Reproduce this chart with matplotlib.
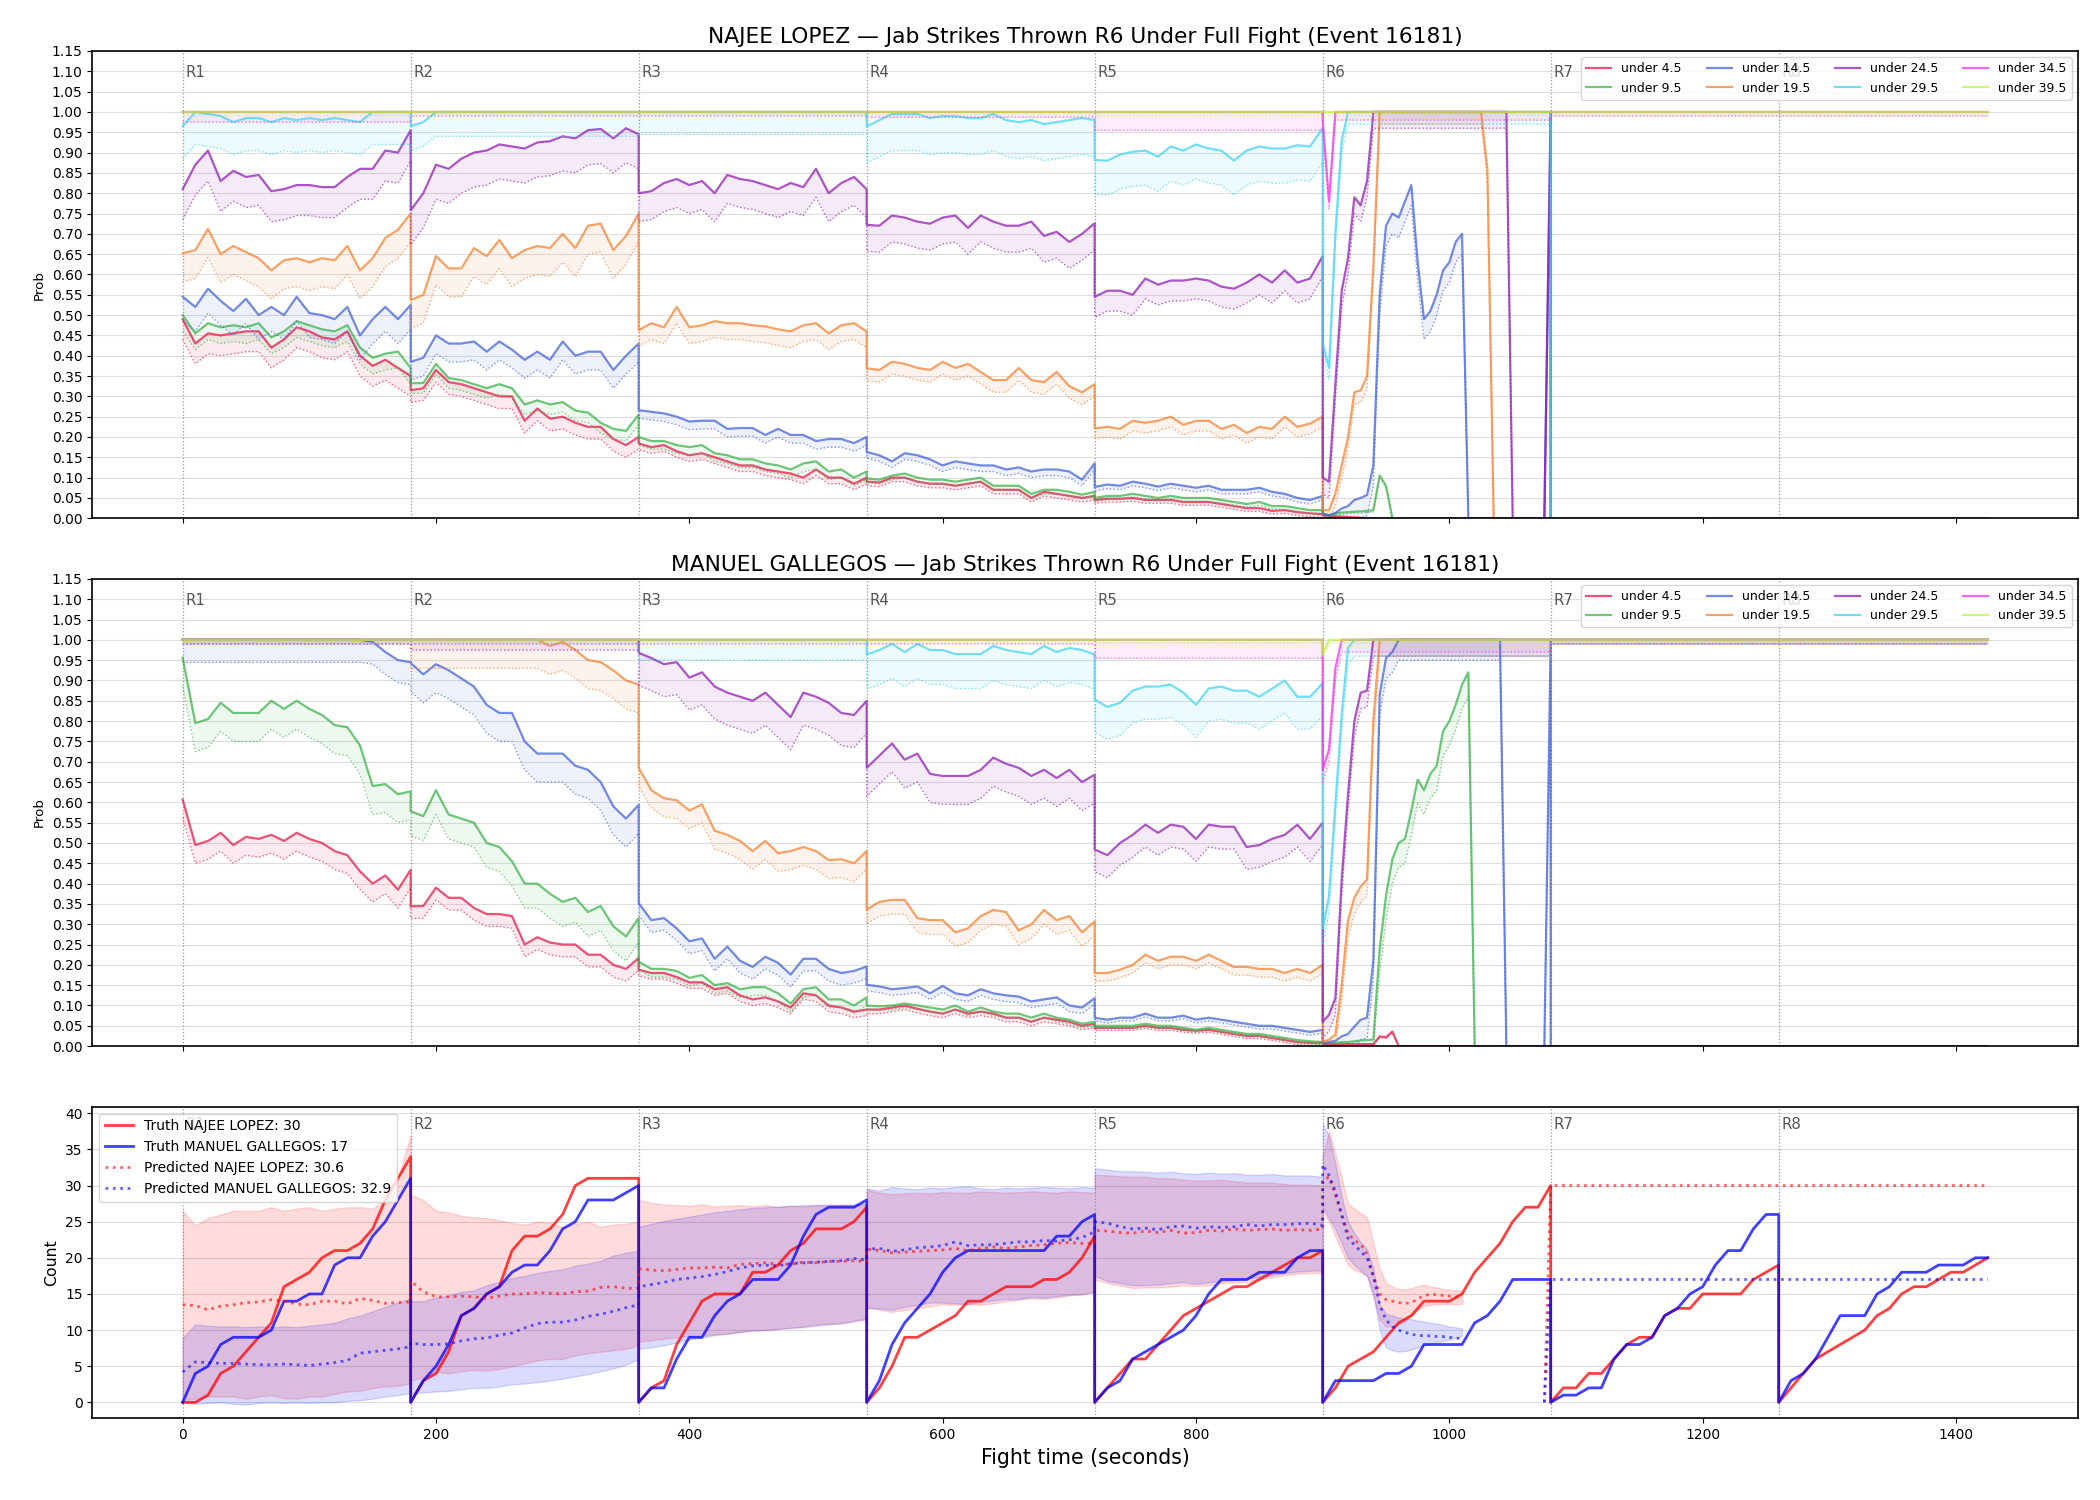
import numpy as np
import matplotlib
matplotlib.use('Agg')
import matplotlib.pyplot as plt

nan = np.nan

# ---------------- time segments ----------------
round_starts = [0, 180, 360, 540, 720, 900, 1080, 1260]
prob_edges = [0, 180, 360, 540, 720, 900, 1080, 1425]          # R1..R6 + after R6
count_edges = [0, 180, 360, 540, 720, 900, 1080, 1260, 1425]    # R1..R8

thresholds = ['under 4.5', 'under 9.5', 'under 14.5', 'under 19.5',
              'under 24.5', 'under 29.5', 'under 34.5', 'under 39.5']
colors = ['#e6194b', '#3cb44b', '#4363d8', '#f58231',
          '#911eb4', '#42d4f4', '#f032e6', '#bfef45']

# ---------------- NAJEE LOPEZ probabilities (one list per segment) ----------------
lopez_u45 = [
    [0.49, 0.43, 0.455, 0.45, 0.455, 0.46, 0.46, 0.42, 0.44, 0.47, 0.46, 0.445, 0.44, 0.46, 0.40, 0.375, 0.39, 0.37, 0.35],
    [0.315, 0.32, 0.365, 0.335, 0.33, 0.32, 0.31, 0.30, 0.30, 0.24, 0.27, 0.245, 0.25, 0.235, 0.225, 0.225, 0.195, 0.18, 0.20],
    [0.184, 0.175, 0.18, 0.165, 0.155, 0.16, 0.15, 0.14, 0.13, 0.13, 0.12, 0.115, 0.11, 0.10, 0.12, 0.10, 0.10, 0.085, 0.10],
    [0.09, 0.088, 0.10, 0.10, 0.09, 0.085, 0.085, 0.08, 0.085, 0.09, 0.07, 0.07, 0.07, 0.05, 0.065, 0.06, 0.055, 0.05, 0.055],
    [0.045, 0.048, 0.048, 0.05, 0.045, 0.045, 0.045, 0.04, 0.04, 0.04, 0.035, 0.03, 0.025, 0.025, 0.018, 0.02, 0.015, 0.012, 0.01],
    [0.008, 0.006, 0.005, 0.004, 0.003, 0.002, 0.001] + [0.0] * 30,
    [0.0, 0.0]]
lopez_u95 = [
    [0.50, 0.455, 0.48, 0.47, 0.475, 0.47, 0.48, 0.445, 0.46, 0.485, 0.475, 0.465, 0.46, 0.475, 0.42, 0.395, 0.405, 0.41, 0.37],
    [0.332, 0.333, 0.38, 0.345, 0.34, 0.33, 0.32, 0.33, 0.32, 0.28, 0.29, 0.28, 0.286, 0.265, 0.26, 0.235, 0.22, 0.215, 0.255],
    [0.20, 0.19, 0.19, 0.18, 0.175, 0.18, 0.16, 0.155, 0.145, 0.145, 0.135, 0.13, 0.12, 0.135, 0.14, 0.115, 0.12, 0.10, 0.115],
    [0.098, 0.095, 0.105, 0.11, 0.10, 0.095, 0.095, 0.09, 0.095, 0.10, 0.08, 0.08, 0.08, 0.06, 0.07, 0.07, 0.065, 0.058, 0.065],
    [0.05, 0.055, 0.055, 0.06, 0.055, 0.05, 0.055, 0.05, 0.05, 0.05, 0.045, 0.04, 0.035, 0.04, 0.03, 0.03, 0.025, 0.02, 0.02],
    [0.012, 0.008, 0.012, 0.014, 0.015, 0.016, 0.017, 0.018, 0.02, 0.105, 0.08] + [0.0] * 26,
    [0.0, 0.0]]
lopez_u145 = [
    [0.545, 0.52, 0.565, 0.535, 0.51, 0.54, 0.50, 0.52, 0.50, 0.545, 0.505, 0.50, 0.49, 0.52, 0.45, 0.49, 0.52, 0.49, 0.525],
    [0.385, 0.395, 0.45, 0.43, 0.43, 0.435, 0.41, 0.435, 0.415, 0.39, 0.41, 0.39, 0.435, 0.40, 0.41, 0.41, 0.365, 0.40, 0.43],
    [0.266, 0.262, 0.258, 0.25, 0.238, 0.24, 0.24, 0.22, 0.222, 0.222, 0.205, 0.22, 0.205, 0.205, 0.19, 0.195, 0.195, 0.185, 0.20],
    [0.163, 0.155, 0.14, 0.16, 0.155, 0.145, 0.13, 0.14, 0.135, 0.13, 0.13, 0.12, 0.125, 0.115, 0.12, 0.12, 0.115, 0.095, 0.135],
    [0.077, 0.083, 0.08, 0.09, 0.085, 0.078, 0.085, 0.08, 0.075, 0.08, 0.07, 0.07, 0.07, 0.075, 0.065, 0.06, 0.05, 0.045, 0.055],
    [0.01, 0.007, 0.013, 0.024, 0.03, 0.045, 0.05, 0.057, 0.13, 0.55, 0.72, 0.75, 0.74, 0.78, 0.82, 0.63,
     0.49, 0.51, 0.55, 0.61, 0.63, 0.68, 0.70] + [0.0] * 13 + [1.0],
    [0.0, 0.0]]
lopez_u195 = [
    [0.652, 0.66, 0.712, 0.65, 0.67, 0.655, 0.64, 0.61, 0.635, 0.64, 0.63, 0.64, 0.635, 0.67, 0.61, 0.64, 0.69, 0.71, 0.75],
    [0.537, 0.55, 0.645, 0.615, 0.615, 0.665, 0.645, 0.685, 0.64, 0.66, 0.67, 0.665, 0.70, 0.665, 0.72, 0.725, 0.66, 0.695, 0.75],
    [0.463, 0.48, 0.47, 0.52, 0.47, 0.475, 0.485, 0.48, 0.48, 0.475, 0.472, 0.465, 0.46, 0.475, 0.48, 0.455, 0.475, 0.48, 0.46],
    [0.369, 0.365, 0.385, 0.38, 0.37, 0.365, 0.385, 0.37, 0.38, 0.36, 0.34, 0.34, 0.37, 0.34, 0.335, 0.36, 0.325, 0.31, 0.33],
    [0.221, 0.225, 0.22, 0.24, 0.235, 0.24, 0.25, 0.23, 0.24, 0.24, 0.22, 0.23, 0.21, 0.225, 0.22, 0.25, 0.225, 0.233, 0.25],
    [0.02, 0.02, 0.06, 0.13, 0.20, 0.31, 0.315, 0.35, 0.62] + [1.0] * 17 + [0.86] + [0.0] * 10,
    [0.0, 0.0]]
lopez_u245 = [
    [0.81, 0.87, 0.905, 0.83, 0.855, 0.84, 0.845, 0.805, 0.81, 0.82, 0.82, 0.815, 0.815, 0.84, 0.86, 0.86, 0.905, 0.90, 0.955],
    [0.758, 0.80, 0.87, 0.86, 0.885, 0.90, 0.905, 0.92, 0.915, 0.91, 0.925, 0.928, 0.94, 0.935, 0.955, 0.958, 0.935, 0.96, 0.945],
    [0.80, 0.805, 0.825, 0.835, 0.82, 0.83, 0.80, 0.845, 0.835, 0.83, 0.82, 0.81, 0.825, 0.815, 0.86, 0.80, 0.825, 0.84, 0.81],
    [0.722, 0.72, 0.745, 0.74, 0.73, 0.725, 0.74, 0.745, 0.715, 0.745, 0.73, 0.72, 0.72, 0.73, 0.695, 0.705, 0.68, 0.70, 0.726],
    [0.545, 0.56, 0.56, 0.55, 0.59, 0.575, 0.585, 0.585, 0.59, 0.585, 0.57, 0.565, 0.58, 0.60, 0.58, 0.61, 0.58, 0.59, 0.645],
    [0.10, 0.09, 0.33, 0.56, 0.64, 0.79, 0.77, 0.83] + [1.0] * 22 + [0.0] * 6 + [1.0],
    [0.0, 0.0]]
lopez_u295 = [
    [0.965, 1.0, 0.995, 0.99, 0.975, 0.985, 0.985, 0.975, 0.985, 0.98, 0.985, 0.98, 0.985, 0.98, 0.975, 1.0, 1.0, 1.0, 1.0],
    [0.965, 0.975, 1.0, 1.0, 1.0, 1.0, 1.0, 1.0, 1.0, 1.0, 1.0, 1.0, 1.0, 1.0, 1.0, 1.0, 1.0, 1.0, 1.0],
    [1.0, 1.0],
    [0.964, 0.98, 0.995, 0.995, 0.995, 0.985, 0.99, 0.99, 0.985, 0.985, 0.995, 0.98, 0.975, 0.98, 0.97, 0.975, 0.98, 0.985, 0.98],
    [0.882, 0.88, 0.895, 0.902, 0.905, 0.89, 0.915, 0.905, 0.92, 0.91, 0.905, 0.88, 0.905, 0.915, 0.91, 0.91, 0.918, 0.915, 0.96],
    [0.43, 0.37, 0.70, 0.93] + [1.0] * 33,
    [0.0, 0.0]]
lopez_u345 = [[1.0, 1.0], [1.0, 1.0], [1.0, 1.0], [1.0, 1.0], [1.0, 1.0],
              [0.98, 0.78] + [1.0] * 35, [1.0, 1.0]]
lopez_u395 = [[1.0, 1.0], [1.0, 1.0], [1.0, 1.0], [1.0, 1.0], [1.0, 1.0], [1.0, 1.0], [1.0, 1.0]]

# distance from each solid line down to its dotted lower bound, per segment
lopez_gaps = [
    [0.05, 0.03, 0.015, 0.01, 0.008, 0.004, 0.0],
    [0.04, 0.025, 0.02, 0.01, 0.008, 0.004, 0.0],
    [0.06, 0.045, 0.02, 0.015, 0.01, 0.05, 0.0],
    [0.07, 0.07, 0.04, 0.03, 0.025, 0.03, 0.0],
    [0.075, 0.085, 0.07, 0.065, 0.05, 0.04, 0.0],
    [0.08, 0.06, 0.055, 0.09, 0.085, 0.03, 0.0],
    [0.025, 0.01, 0.01, 0.013, 0.045, 0.02, 0.01],
    [0.008, 0.008, 0.008, 0.008, 0.008, 0.008, 0.008]]

# ---------------- MANUEL GALLEGOS probabilities ----------------
gallegos_u45 = [
    [0.607, 0.495, 0.505, 0.525, 0.495, 0.515, 0.51, 0.52, 0.505, 0.525, 0.51, 0.50, 0.48, 0.47, 0.43, 0.40, 0.42, 0.385, 0.434],
    [0.344, 0.345, 0.39, 0.365, 0.365, 0.34, 0.325, 0.325, 0.32, 0.25, 0.268, 0.255, 0.25, 0.25, 0.225, 0.225, 0.20, 0.19, 0.217],
    [0.188, 0.18, 0.18, 0.17, 0.157, 0.157, 0.14, 0.145, 0.125, 0.115, 0.12, 0.11, 0.095, 0.13, 0.125, 0.10, 0.095, 0.085, 0.09],
    [0.09, 0.09, 0.095, 0.10, 0.092, 0.085, 0.08, 0.09, 0.08, 0.085, 0.08, 0.07, 0.07, 0.06, 0.07, 0.065, 0.06, 0.05, 0.055],
    [0.045, 0.045, 0.045, 0.045, 0.05, 0.045, 0.045, 0.04, 0.038, 0.04, 0.035, 0.03, 0.025, 0.025, 0.02, 0.015, 0.01, 0.008, 0.008],
    [0.005] * 9 + [0.024, 0.022, 0.036] + [0.0] * 25,
    [0.0, 0.0]]
gallegos_u95 = [
    [0.956, 0.795, 0.805, 0.845, 0.82, 0.82, 0.82, 0.85, 0.83, 0.85, 0.83, 0.815, 0.79, 0.785, 0.74, 0.64, 0.645, 0.62, 0.627],
    [0.578, 0.566, 0.63, 0.57, 0.56, 0.55, 0.50, 0.49, 0.455, 0.40, 0.40, 0.375, 0.355, 0.365, 0.33, 0.345, 0.295, 0.27, 0.315],
    [0.208, 0.19, 0.19, 0.185, 0.168, 0.175, 0.15, 0.155, 0.14, 0.145, 0.145, 0.13, 0.105, 0.14, 0.145, 0.115, 0.115, 0.10, 0.12],
    [0.10, 0.098, 0.10, 0.105, 0.10, 0.095, 0.09, 0.10, 0.085, 0.095, 0.085, 0.08, 0.08, 0.07, 0.08, 0.07, 0.065, 0.055, 0.06],
    [0.05, 0.05, 0.05, 0.05, 0.055, 0.05, 0.05, 0.045, 0.04, 0.045, 0.04, 0.035, 0.03, 0.03, 0.025, 0.02, 0.015, 0.012, 0.01],
    [0.007, 0.007, 0.008, 0.01, 0.01, 0.012, 0.014, 0.015, 0.016, 0.24, 0.37, 0.46, 0.50, 0.51, 0.58, 0.656,
     0.63, 0.67, 0.69, 0.775, 0.80, 0.84, 0.89, 0.92] + [0.0] * 13,
    [0.0, 0.0]]
gallegos_u145 = [
    [1.0, 1.0, 1.0, 1.0, 1.0, 1.0, 1.0, 1.0, 1.0, 1.0, 1.0, 1.0, 1.0, 1.0, 1.0, 0.995, 0.97, 0.95, 0.945],
    [0.943, 0.915, 0.94, 0.925, 0.905, 0.885, 0.84, 0.82, 0.82, 0.75, 0.72, 0.72, 0.72, 0.69, 0.68, 0.65, 0.59, 0.56, 0.594],
    [0.352, 0.31, 0.315, 0.29, 0.258, 0.265, 0.215, 0.245, 0.21, 0.195, 0.22, 0.205, 0.176, 0.215, 0.215, 0.19, 0.18, 0.185, 0.196],
    [0.151, 0.147, 0.14, 0.143, 0.147, 0.13, 0.148, 0.13, 0.125, 0.14, 0.13, 0.125, 0.122, 0.11, 0.115, 0.12, 0.10, 0.095, 0.118],
    [0.07, 0.065, 0.07, 0.07, 0.08, 0.07, 0.07, 0.075, 0.065, 0.07, 0.065, 0.06, 0.055, 0.05, 0.05, 0.045, 0.04, 0.035, 0.04],
    [0.007, 0.01, 0.013, 0.024, 0.03, 0.048, 0.065, 0.07, 0.21, 0.865, 0.955, 0.97] + [1.0] * 17 + [0.0] * 7 + [1.0],
    [0.0, 0.0]]
gallegos_u195 = [
    [1.0, 1.0],
    [1.0, 1.0, 1.0, 1.0, 1.0, 1.0, 1.0, 1.0, 1.0, 1.0, 1.0, 0.985, 0.995, 0.975, 0.95, 0.945, 0.925, 0.90, 0.89],
    [0.685, 0.63, 0.61, 0.605, 0.58, 0.595, 0.53, 0.52, 0.505, 0.48, 0.505, 0.475, 0.48, 0.49, 0.48, 0.458, 0.46, 0.45, 0.48],
    [0.336, 0.355, 0.36, 0.36, 0.315, 0.31, 0.31, 0.28, 0.29, 0.32, 0.335, 0.33, 0.285, 0.30, 0.335, 0.31, 0.32, 0.28, 0.307],
    [0.18, 0.18, 0.188, 0.20, 0.225, 0.21, 0.22, 0.22, 0.21, 0.225, 0.21, 0.195, 0.195, 0.19, 0.19, 0.18, 0.19, 0.18, 0.20],
    [0.011, 0.016, 0.028, 0.15, 0.31, 0.365, 0.393, 0.41, 0.80] + [1.0] * 28,
    [1.0, 1.0]]
gallegos_u245 = [
    [1.0, 1.0],
    [1.0, 1.0],
    [0.968, 0.955, 0.94, 0.945, 0.907, 0.92, 0.885, 0.87, 0.86, 0.85, 0.87, 0.84, 0.81, 0.87, 0.86, 0.845, 0.82, 0.815, 0.85],
    [0.685, 0.715, 0.745, 0.705, 0.72, 0.67, 0.665, 0.665, 0.665, 0.68, 0.71, 0.695, 0.685, 0.665, 0.68, 0.66, 0.68, 0.65, 0.668],
    [0.484, 0.47, 0.50, 0.52, 0.545, 0.525, 0.545, 0.54, 0.51, 0.545, 0.54, 0.54, 0.49, 0.495, 0.51, 0.52, 0.545, 0.51, 0.55],
    [0.06, 0.077, 0.118, 0.41, 0.62, 0.80, 0.87, 0.875] + [1.0] * 29,
    [1.0, 1.0]]
gallegos_u295 = [
    [1.0, 1.0],
    [1.0, 1.0],
    [1.0, 1.0],
    [0.964, 0.975, 0.99, 0.97, 0.99, 0.975, 0.975, 0.965, 0.965, 0.965, 0.985, 0.975, 0.97, 0.965, 0.985, 0.97, 0.98, 0.975, 0.964],
    [0.853, 0.835, 0.845, 0.875, 0.885, 0.885, 0.89, 0.87, 0.84, 0.88, 0.885, 0.875, 0.875, 0.86, 0.88, 0.90, 0.86, 0.86, 0.893],
    [0.29, 0.37, 0.594, 0.816, 0.98] + [1.0] * 32,
    [1.0, 1.0]]
gallegos_u345 = [[1.0, 1.0], [1.0, 1.0], [1.0, 1.0], [1.0, 1.0], [1.0, 1.0],
                 [0.68, 0.73, 0.93] + [1.0] * 34, [1.0, 1.0]]
gallegos_u395 = [[1.0, 1.0], [1.0, 1.0], [1.0, 1.0], [1.0, 1.0], [1.0, 1.0],
                 [0.965] + [1.0] * 36, [1.0, 1.0]]

gallegos_gaps = [
    [0.045, 0.03, 0.015, 0.01, 0.006, 0.003, 0.0],
    [0.07, 0.06, 0.02, 0.01, 0.006, 0.06, 0.0],
    [0.055, 0.07, 0.03, 0.015, 0.008, 0.05, 0.0],
    [0.01, 0.07, 0.045, 0.035, 0.02, 0.04, 0.01],
    [0.01, 0.025, 0.08, 0.07, 0.055, 0.04, 0.01],
    [0.01, 0.01, 0.05, 0.085, 0.08, 0.04, 0.01],
    [0.01, 0.01, 0.01, 0.01, 0.045, 0.03, 0.01],
    [0.008, 0.008, 0.008, 0.008, 0.008, 0.008, 0.008]]

# ---------------- cumulative jab counts (truth), one list per round ----------------
lopez_truth = [
    [0, 0, 1, 4, 5, 7, 9, 11, 16, 17, 18, 20, 21, 21, 22, 24, 28, 31, 34],
    [0, 3, 4, 7, 12, 13, 15, 16, 21, 23, 23, 24, 26, 30, 31, 31, 31, 31, 31],
    [0, 2, 3, 8, 11, 14, 15, 15, 15, 18, 18, 19, 21, 22, 24, 24, 24, 25, 27],
    [0, 2, 5, 9, 9, 10, 11, 12, 14, 14, 15, 16, 16, 16, 17, 17, 18, 20, 23],
    [0, 2, 4, 6, 6, 8, 10, 12, 13, 14, 15, 16, 16, 17, 18, 19, 20, 20, 21],
    [0, 2, 5, 6, 7, 9, 11, 12, 14, 14, 14, 15, 18, 20, 22, 25, 27, 27, 30],
    [0, 2, 2, 4, 4, 6, 8, 9, 9, 12, 13, 13, 15, 15, 15, 15, 17, 18, 19],
    [0, 2, 4, 6, 7, 8, 9, 10, 12, 13, 15, 16, 16, 17, 18, 18, 19, 20]]
gallegos_truth = [
    [0, 4, 5, 8, 9, 9, 9, 10, 14, 14, 15, 15, 19, 20, 20, 23, 25, 28, 31],
    [0, 3, 5, 8, 12, 13, 15, 16, 18, 19, 19, 21, 24, 25, 28, 28, 28, 29, 30],
    [0, 2, 2, 6, 9, 9, 12, 14, 15, 17, 17, 17, 19, 23, 26, 27, 27, 27, 28],
    [0, 3, 8, 11, 13, 15, 18, 20, 21, 21, 21, 21, 21, 21, 21, 23, 23, 25, 26],
    [0, 2, 3, 6, 7, 8, 9, 10, 12, 15, 17, 17, 17, 18, 18, 18, 20, 21, 21],
    [0, 3, 3, 3, 3, 4, 4, 5, 8, 8, 8, 8, 11, 12, 14, 17, 17, 17, 17],
    [0, 1, 1, 2, 2, 6, 8, 8, 9, 12, 13, 15, 16, 19, 21, 21, 24, 26, 26],
    [0, 3, 4, 6, 9, 12, 12, 12, 15, 16, 18, 18, 18, 19, 19, 19, 20, 20]]

# ---------------- predicted final R6 count and its band (R1..R6 + after R6) ----------------
lopez_pred = [
    [13.5, 13.4, 12.8, 13.3, 13.5, 13.8, 13.9, 14.2, 14.0, 13.6, 13.5, 14.0, 14.0, 13.6, 14.4, 14.1, 13.7, 13.8, 13.9],
    [16.8, 15.3, 14.6, 14.6, 14.7, 14.6, 14.4, 14.7, 15.0, 15.0, 15.2, 15.1, 15.0, 15.3, 15.4, 15.9, 16.0, 15.8, 15.8],
    [18.5, 18.3, 18.2, 18.4, 18.6, 18.6, 18.7, 18.6, 19.1, 19.2, 19.3, 19.1, 19.1, 19.4, 19.3, 19.5, 19.5, 19.6, 19.5],
    [21.2, 21.0, 20.7, 20.8, 20.9, 21.0, 21.1, 21.3, 21.0, 21.3, 21.5, 21.3, 21.5, 21.7, 21.8, 22.0, 22.1, 22.0, 22.0],
    [23.8, 23.7, 23.5, 23.4, 23.7, 23.5, 23.8, 23.4, 23.5, 23.8, 23.7, 24.0, 23.8, 23.9, 24.0, 23.8, 23.9, 23.8, 24.0],
    [30.6, 31.2, 28.7, 26.0, 23.4, 22.4, 21.9, 20.5, 17.5, 15.0, 14.2, 14.0, 13.8, 13.7, 13.8, 14.3,
     14.8, 14.9, 14.9, 14.8, 14.7, 14.6, 14.6] + [nan] * 12 + [0.0, 30.0],
    [30.0, 30.0]]
lopez_hi = [
    [26.5, 24.5, 25.5, 26.0, 26.5, 26.5, 26.5, 27.0, 26.5, 26.8, 27.0, 26.5, 26.8, 27.0, 27.0, 26.8, 28.0, 31.0, 37.0],
    [28.7, 28.0, 26.5, 26.3, 25.8, 25.6, 25.5, 25.2, 24.8, 24.6, 25.0, 24.9, 24.2, 24.7, 25.0, 24.3, 24.6, 24.7, 25.0],
    [28.0, 27.6, 27.4, 27.3, 27.2, 27.4, 27.1, 27.2, 27.3, 27.1, 27.3, 27.0, 27.2, 27.1, 27.3, 27.2, 27.4, 27.2, 27.4],
    [29.4, 29.0, 28.8, 28.9, 29.0, 28.9, 29.1, 29.0, 29.0, 29.2, 29.1, 29.0, 29.1, 29.2, 29.1, 29.0, 29.2, 29.1, 29.0],
    [31.5, 31.4, 31.3, 31.2, 31.2, 31.0, 31.0, 30.8, 30.7, 30.7, 30.8, 30.6, 30.4, 30.4, 30.4, 30.2, 30.1, 30.1, 30.0],
    [34.0, 37.5, 34.5, 31.0, 27.5, 26.8, 26.2, 25.6, 22.0, 18.5, 16.5, 16.0, 15.7, 15.6, 15.8, 16.1,
     16.3, 16.0, 15.9, 15.7, 15.6, 15.5, 15.4] + [nan] * 14,
    [nan, nan]]
lopez_lo = [
    [0.3, 0.5, 0.8, 0.8, 0.8, 0.5, 0.8, 1.0, 0.6, 0.5, 0.8, 0.8, 1.2, 1.5, 1.6, 2.0, 2.2, 2.3, 2.6],
    [3.0, 3.5, 4.2, 4.0, 4.3, 4.5, 4.4, 4.6, 5.0, 5.4, 5.8, 6.0, 6.0, 6.5, 6.8, 7.0, 7.2, 7.4, 7.9],
    [8.4, 8.6, 8.8, 9.0, 9.2, 9.2, 9.4, 9.5, 9.8, 10.0, 10.0, 10.2, 10.3, 10.5, 10.8, 10.9, 11.0, 11.3, 11.6],
    [13.2, 12.8, 12.5, 12.8, 13.0, 13.3, 13.6, 13.5, 13.6, 13.5, 13.7, 14.0, 14.2, 14.4, 14.3, 14.5, 14.8, 14.9, 15.3],
    [17.0, 16.5, 16.2, 15.8, 15.9, 15.9, 16.0, 16.2, 16.1, 16.2, 16.5, 16.6, 16.7, 17.0, 17.3, 17.6, 17.8, 17.9, 17.9],
    [26.5, 25.0, 23.0, 21.0, 19.0, 18.3, 18.0, 17.5, 14.5, 11.5, 10.5, 10.5, 10.8, 11.2, 12.0, 12.8,
     13.3, 13.5, 13.6, 13.6, 13.6, 13.6, 13.6] + [nan] * 14,
    [nan, nan]]

gallegos_pred = [
    [4.2, 5.6, 5.5, 5.4, 5.4, 5.3, 5.2, 5.2, 5.3, 5.2, 5.1, 5.3, 5.5, 5.8, 6.8, 7.0, 7.2, 7.4, 7.7],
    [8.2, 8.0, 8.0, 8.1, 8.5, 8.8, 8.9, 9.3, 9.6, 10.3, 10.9, 11.1, 11.1, 11.4, 11.9, 12.2, 12.6, 13.1, 13.5],
    [16.0, 16.3, 16.6, 17.0, 17.2, 17.4, 17.7, 18.1, 18.6, 18.9, 19.0, 18.9, 19.2, 19.3, 19.4, 19.5, 19.6, 19.9, 19.7],
    [21.2, 21.3, 20.9, 21.1, 21.4, 21.5, 21.7, 22.2, 21.7, 21.8, 21.8, 22.0, 22.2, 22.2, 22.4, 22.3, 22.5, 22.8, 23.6],
    [25.0, 24.8, 24.3, 24.0, 24.1, 23.9, 24.3, 24.4, 24.1, 24.3, 24.2, 24.3, 24.6, 24.4, 24.6, 24.6, 24.7, 24.8, 24.5],
    [32.9, 31.4, 29.2, 25.9, 22.7, 21.8, 20.9, 20.0, 17.5, 13.5, 11.4, 10.5, 10.0, 9.7, 9.4, 9.3,
     9.2, 9.2, 9.1, 9.1, 9.0, 8.9, 8.8] + [nan] * 12 + [0.0, 17.0],
    [17.0, 17.0]]
gallegos_hi = [
    [8.9, 10.8, 10.6, 10.5, 10.5, 10.4, 10.5, 10.4, 10.5, 10.4, 10.6, 10.8, 11.0, 11.6, 12.0, 12.6, 13.2, 13.8, 14.4],
    [14.0, 14.0, 14.5, 14.8, 15.3, 15.5, 16.2, 16.7, 17.2, 17.5, 17.9, 18.2, 18.4, 18.9, 19.2, 19.6, 20.3, 20.7, 21.0],
    [24.3, 24.7, 25.1, 25.4, 25.7, 26.0, 26.3, 26.5, 26.7, 26.9, 27.0, 27.1, 27.2, 27.3, 27.3, 27.4, 27.3, 27.4, 27.5],
    [29.6, 29.3, 29.8, 29.6, 29.5, 29.7, 29.6, 29.8, 29.9, 29.6, 29.5, 29.7, 29.6, 29.7, 29.8, 29.7, 29.6, 29.8, 29.7],
    [32.4, 32.2, 32.0, 32.0, 31.9, 31.8, 31.9, 31.7, 31.6, 31.8, 31.6, 31.7, 31.5, 31.5, 31.6, 31.4, 31.4, 31.4, 31.2],
    [38.6, 36.8, 33.0, 28.5, 25.0, 23.4, 22.2, 21.2, 18.5, 13.5, 12.3, 12.0, 11.7, 11.6, 11.5, 11.3,
     11.2, 11.0, 10.9, 10.7, 10.5, 10.4, 10.2] + [nan] * 14,
    [nan, nan]]
gallegos_lo = [
    [0.0, -0.2, -0.1, 0.0, -0.2, -0.3, -0.1, 0.0, -0.1, 0.0, -0.1, 0.0, 0.0, 0.2, 0.3, 0.5, 0.8, 1.0, 1.3],
    [1.2, 1.4, 1.5, 1.6, 1.8, 2.0, 2.0, 2.2, 2.5, 2.6, 2.8, 3.0, 3.3, 3.6, 3.9, 4.3, 4.7, 5.2, 6.0],
    [7.4, 7.6, 7.9, 8.3, 8.7, 9.0, 9.3, 9.5, 9.7, 9.9, 10.0, 10.1, 10.3, 10.4, 10.6, 10.8, 10.9, 11.2, 11.5],
    [13.0, 13.0, 12.8, 13.2, 13.5, 13.8, 13.8, 13.7, 13.6, 13.9, 14.1, 14.3, 14.3, 14.6, 14.5, 14.7, 14.9, 15.0, 15.3],
    [17.5, 16.8, 16.5, 16.2, 16.2, 16.3, 16.5, 16.6, 16.4, 16.6, 16.8, 16.9, 17.1, 17.3, 17.6, 17.9, 18.1, 18.2, 18.3],
    [27.0, 25.5, 24.0, 22.0, 20.0, 19.0, 18.2, 17.5, 15.0, 10.0, 7.6, 7.2, 7.0, 7.1, 7.3, 7.6,
     7.9, 8.1, 8.3, 8.5, 8.7, 8.9, 9.2] + [nan] * 14,
    [nan, nan]]


def join(segs, edges):
    # spread each segment's values evenly over its time span
    xs, ys = [], []
    for i, vals in enumerate(segs):
        xs.append(np.linspace(edges[i], edges[i + 1], len(vals)))
        ys.append(np.array(vals, dtype=float))
    return np.concatenate(xs), np.concatenate(ys)


def rounds(ax, ytop):
    for i, r in enumerate(round_starts):
        ax.axvline(r, color='gray', ls=':', lw=0.9, alpha=0.8, zorder=1)
        ax.text(r + 2, ytop, 'R%d' % (i + 1), color='#555555', fontsize=10.8,
                va='top', ha='left', zorder=1)


def prob_panel(ax, series, gaps, title):
    for name, col, segs, gp in zip(thresholds, colors, series, gaps):
        x, y = join(segs, prob_edges)
        low = [np.array(v, dtype=float) - g for v, g in zip(segs, gp)]
        _, lo = join(low, prob_edges)
        lo = np.clip(lo, 0, None)
        ax.fill_between(x, lo, y, color=col, alpha=0.09, lw=0)
        ax.plot(x, lo, ':', color=col, lw=1.0, alpha=0.65)
        ax.plot(x, y, color=col, lw=1.6, alpha=0.75, label=name)
    ax.set_ylim(0, 1.15)
    ax.set_yticks(np.round(np.arange(0, 1.151, 0.05), 2))
    ax.set_yticklabels(['%.2f' % v for v in np.arange(0, 1.151, 0.05)])
    ax.set_ylabel('Prob', fontsize=9.6)
    ax.set_title(title, fontsize=15.7)
    rounds(ax, 1.15 * 0.97)
    leg = ax.legend(loc='upper right', ncol=4, fontsize=9)
    leg.set_zorder(10)


fig, axes = plt.subplots(3, 1, figsize=(21, 15), dpi=100, sharex=True,
                         gridspec_kw={'height_ratios': [3, 3, 2]})
fig.subplots_adjust(left=0.044, right=0.9895, top=0.966, bottom=0.0545, hspace=0.146)

prob_panel(axes[0], [lopez_u45, lopez_u95, lopez_u145, lopez_u195,
                     lopez_u245, lopez_u295, lopez_u345, lopez_u395], lopez_gaps,
           'NAJEE LOPEZ \u2014 Jab Strikes Thrown R6 Under Full Fight (Event 16181)')
prob_panel(axes[1], [gallegos_u45, gallegos_u95, gallegos_u145, gallegos_u195,
                     gallegos_u245, gallegos_u295, gallegos_u345, gallegos_u395], gallegos_gaps,
           'MANUEL GALLEGOS \u2014 Jab Strikes Thrown R6 Under Full Fight (Event 16181)')

# counts panel
ax = axes[2]
for lo, hi, col in [(lopez_lo, lopez_hi, 'red'), (gallegos_lo, gallegos_hi, 'blue')]:
    x, l = join(lo, prob_edges)
    _, h = join(hi, prob_edges)
    ax.fill_between(x, l, h, color=col, alpha=0.14)

xt, yt = join(lopez_truth, count_edges)
ax.plot(xt, yt, color='red', lw=2.0, alpha=0.75, label='Truth NAJEE LOPEZ: 30')
xt, yt = join(gallegos_truth, count_edges)
ax.plot(xt, yt, color='blue', lw=2.0, alpha=0.75, label='Truth MANUEL GALLEGOS: 17')
xp, yp = join(lopez_pred, prob_edges)
ax.plot(xp, yp, ':', color='red', lw=2.0, alpha=0.6, label='Predicted NAJEE LOPEZ: 30.6')
xp, yp = join(gallegos_pred, prob_edges)
ax.plot(xp, yp, ':', color='blue', lw=2.0, alpha=0.6, label='Predicted MANUEL GALLEGOS: 32.9')

ax.set_ylim(-2.2, 40.9)
ax.set_yticks(np.arange(0, 41, 5))
ax.set_ylabel('Count', fontsize=11.3)
ax.set_xlabel('Fight time (seconds)', fontsize=14.8)
rounds(ax, 40.9 * 0.965)
leg = ax.legend(loc='upper left', fontsize=10)
leg.set_zorder(10)

for a in axes:
    a.set_xlim(-71.25, 1496.25)
    a.set_xticks(np.arange(0, 1401, 200))
    a.yaxis.grid(True, color='#dddddd', lw=0.8)
    a.set_axisbelow(True)
    a.tick_params(labelsize=10)
    for s in a.spines.values():
        s.set_linewidth(1.2)

fig.savefig('out.png', dpi=100)
